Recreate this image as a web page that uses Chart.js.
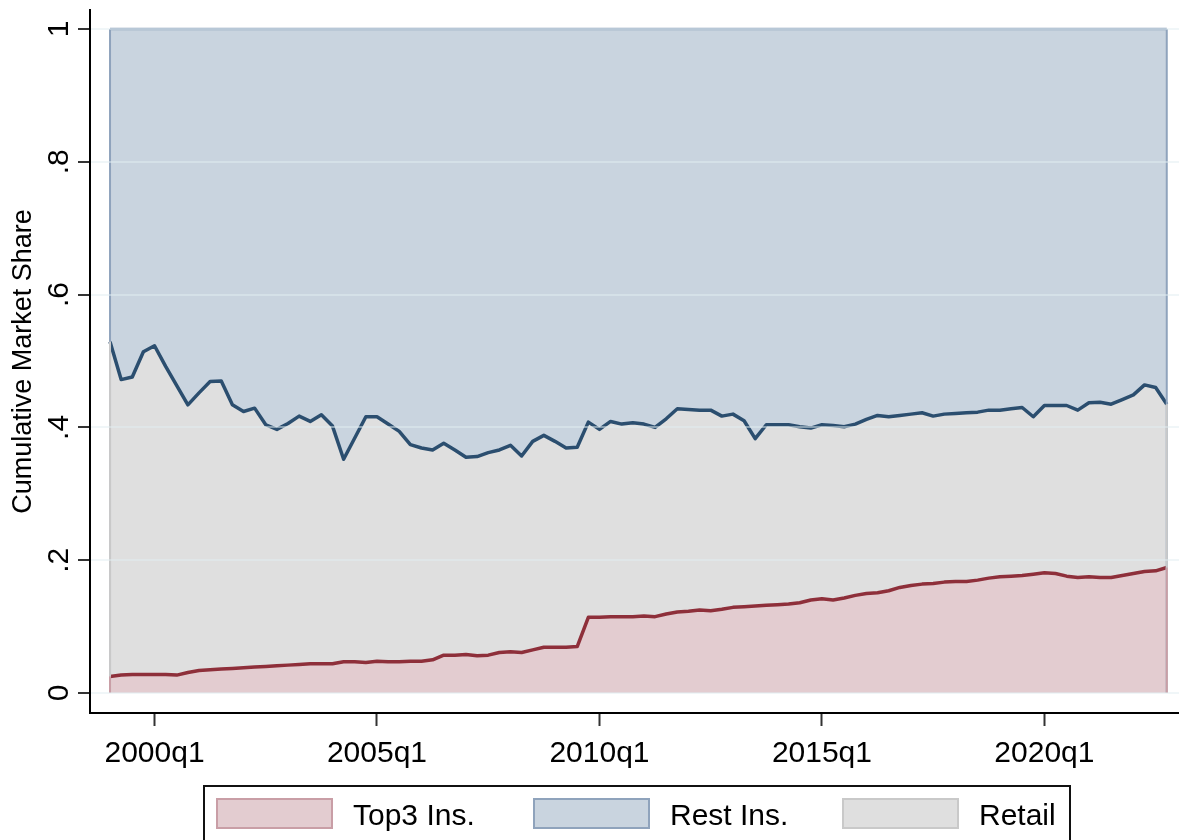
<!DOCTYPE html>
<html>
<head>
<meta charset="utf-8">
<script src="https://cdn.jsdelivr.net/npm/chart.js@4.4.0/dist/chart.umd.min.js"></script>
<style>
  body { margin: 0; background: #fff; font-family: "Liberation Sans", Arial, sans-serif; }
  #wrap { position: relative; width: 1179px; height: 840px; overflow: hidden; }
  #legend { position: absolute; left: 203px; top: 785px; width: 868px; height: 80px; border: 2px solid #111; box-sizing: border-box; }
  .item { position: absolute; top: 11px; height: 34px; line-height: 34px; font-size: 30px; color: #000; white-space: nowrap; }
  .sw { position: absolute; top: 0; left: 0; width: 117px; height: 31px; box-sizing: border-box; border: 2px solid; }
  .item span { position: absolute; top: 0; }
</style>
</head>
<body>
<div id="wrap">
  <canvas id="chart" width="1179" height="840"></canvas>
  <div id="legend"></div>
</div>
<script>
// quarters 1999q1 .. 2022q4
const quarters = [];
for (let yr = 1999; yr <= 2022; yr++) {
  for (let q = 1; q <= 4; q++) quarters.push(yr + "q" + q);
}

// cumulative share: top of the Top3 band
const top3Cum = [
  0.025, 0.027, 0.028, 0.028, 0.028, 0.028, 0.027, 0.031, 0.034, 0.035,
  0.036, 0.037, 0.038, 0.039, 0.040, 0.041, 0.042, 0.043, 0.044, 0.044,
  0.044, 0.047, 0.047, 0.046, 0.048, 0.047, 0.047, 0.048, 0.048, 0.050,
  0.057, 0.057, 0.058, 0.056, 0.057, 0.061, 0.062, 0.061, 0.065, 0.069,
  0.069, 0.069, 0.070, 0.114, 0.114, 0.115, 0.115, 0.115, 0.116, 0.115,
  0.119, 0.122, 0.123, 0.125, 0.124, 0.126, 0.129, 0.130, 0.131, 0.132,
  0.133, 0.134, 0.136, 0.140, 0.142, 0.140, 0.143, 0.147, 0.150, 0.151,
  0.154, 0.159, 0.162, 0.164, 0.165, 0.167, 0.168, 0.168, 0.170, 0.173,
  0.175, 0.176, 0.177, 0.179, 0.181, 0.180, 0.176, 0.174, 0.175, 0.174,
  0.174, 0.177, 0.180, 0.183, 0.184, 0.189
];

// cumulative share: top of the Retail band (Top3 + Retail)
const retailCum = [
  0.529, 0.472, 0.476, 0.514, 0.523, 0.492, 0.463, 0.434, 0.452, 0.469,
  0.470, 0.434, 0.424, 0.429, 0.404, 0.397, 0.406, 0.417, 0.409, 0.419,
  0.402, 0.352, 0.384, 0.416, 0.416, 0.405, 0.394, 0.374, 0.369, 0.366,
  0.376, 0.366, 0.355, 0.356, 0.362, 0.366, 0.373, 0.357, 0.379, 0.388,
  0.379, 0.369, 0.370, 0.408, 0.397, 0.409, 0.405, 0.407, 0.405, 0.400,
  0.413, 0.428, 0.427, 0.426, 0.426, 0.417, 0.420, 0.410, 0.383, 0.404,
  0.404, 0.404, 0.401, 0.399, 0.404, 0.403, 0.401, 0.405, 0.412, 0.418,
  0.416, 0.418, 0.420, 0.422, 0.417, 0.420, 0.421, 0.422, 0.423, 0.426,
  0.426, 0.428, 0.430, 0.416, 0.433, 0.433, 0.433, 0.426, 0.437, 0.438,
  0.435, 0.442, 0.449, 0.464, 0.460, 0.435
];

// cumulative total (Top3 + Retail + Rest) is 1 in every quarter
const restCum = quarters.map(() => 1);

const xTickLabels = ["2000q1", "2005q1", "2010q1", "2015q1", "2020q1"];
const yTicks = [0, 0.2, 0.4, 0.6, 0.8, 1];
const yTickLabels = ["0", ".2", ".4", ".6", ".8", "1"];

const series = [
  { label: "Top3 Ins.", values: top3Cum, fill: "#e3ccd0", line: "#8e2f3a", edge: "#c99ea6", width: 3.5, order: 0 },
  { label: "Rest Ins.", values: restCum, fill: "#c9d4df", line: "#8fa3bc", edge: "#8fa3bc", width: 2.5, order: 2 },
  { label: "Retail", values: retailCum, fill: "#dfdfdf", line: "#2b4e6f", edge: "#c9c9c9", width: 3.5, order: 1 }
];

const FONT = '"Liberation Sans", Arial, sans-serif';

const toPoints = (vals) => vals.map((v, i) => ({ x: i, y: v }));

// rotated y tick labels + vertical edges of the areas
const extras = {
  id: "extras",
  afterDatasetsDraw(chart) {
    const ctx = chart.ctx;
    const xs = chart.scales.x, ys = chart.scales.y;
    const last = quarters.length - 1;
    const drawOrder = [...series].sort((a, b) => b.order - a.order);
    ctx.save();
    ctx.lineWidth = 2;
    drawOrder.forEach((s) => {
      ctx.strokeStyle = s.edge;
      [0, last].forEach((i) => {
        const px = xs.getPixelForValue(i);
        ctx.beginPath();
        ctx.moveTo(px, ys.getPixelForValue(0));
        ctx.lineTo(px, ys.getPixelForValue(s.values[i]));
        ctx.stroke();
      });
    });
    ctx.restore();
  },
  afterDraw(chart) {
    const ctx = chart.ctx;
    const ys = chart.scales.y;
    ctx.save();
    ctx.font = "30px " + FONT;
    ctx.fillStyle = "#000";
    ctx.textAlign = "center";
    ctx.textBaseline = "alphabetic";
    yTicks.forEach((v, i) => {
      ctx.save();
      ctx.translate(ys.right - 22, ys.getPixelForValue(v));
      ctx.rotate(-Math.PI / 2);
      ctx.fillText(yTickLabels[i], 0, 0);
      ctx.restore();
    });
    ctx.restore();
  }
};

new Chart(document.getElementById("chart"), {
  type: "line",
  data: {
    datasets: series.map((s) => ({
      label: s.label,
      data: toPoints(s.values),
      backgroundColor: s.fill,
      borderColor: s.line,
      borderWidth: s.width,
      borderJoinStyle: "round",
      fill: "origin",
      pointRadius: 0,
      tension: 0,
      order: s.order
    }))
  },
  options: {
    responsive: false,
    animation: false,
    devicePixelRatio: 1,
    layout: { padding: { top: 10, right: 0, left: 0, bottom: 0 } },
    plugins: { legend: { display: false }, tooltip: { enabled: false } },
    scales: {
      x: {
        type: "linear",
        min: -1.8,
        max: 96.1,
        afterBuildTicks: (scale) => {
          scale.ticks = xTickLabels.map((l) => ({ value: quarters.indexOf(l) }));
        },
        afterFit: (scale) => { scale.height = 127; },
        ticks: {
          autoSkip: false,
          maxRotation: 0,
          padding: 10,
          color: "#000",
          font: { family: FONT, size: 30 },
          callback: (v) => quarters[v]
        },
        grid: { drawOnChartArea: false, drawTicks: true, tickLength: 13, tickWidth: 2, tickColor: "#333" },
        border: { display: true, color: "#000", width: 2 }
      },
      y: {
        min: -0.0301,
        max: 1.0286,
        afterBuildTicks: (scale) => {
          scale.ticks = yTicks.map((v) => ({ value: v }));
        },
        afterFit: (scale) => { scale.width = 90; },
        ticks: { display: false },
        grid: { z: 1, color: "rgba(226,237,242,0.5)", lineWidth: 2, drawTicks: true, tickLength: 12, tickWidth: 2, tickColor: "#333" },
        border: { z: 2, display: true, color: "#000", width: 2 },
        title: {
          display: true,
          text: "Cumulative Market Share",
          color: "#000",
          font: { family: FONT, size: 27 },
          padding: { top: 7, bottom: 0 }
        }
      }
    }
  },
  plugins: [extras]
});

// legend box under the plot
const legend = document.getElementById("legend");
const legendX = [11, 328, 637];
series.forEach((s, i) => {
  const item = document.createElement("div");
  item.className = "item";
  item.style.left = legendX[i] + "px";
  item.innerHTML = '<div class="sw" style="background:' + s.fill + ';border-color:' + s.edge + '"></div>' +
    '<span style="left:137px">' + s.label + '</span>';
  legend.appendChild(item);
});
</script>
</body>
</html>
